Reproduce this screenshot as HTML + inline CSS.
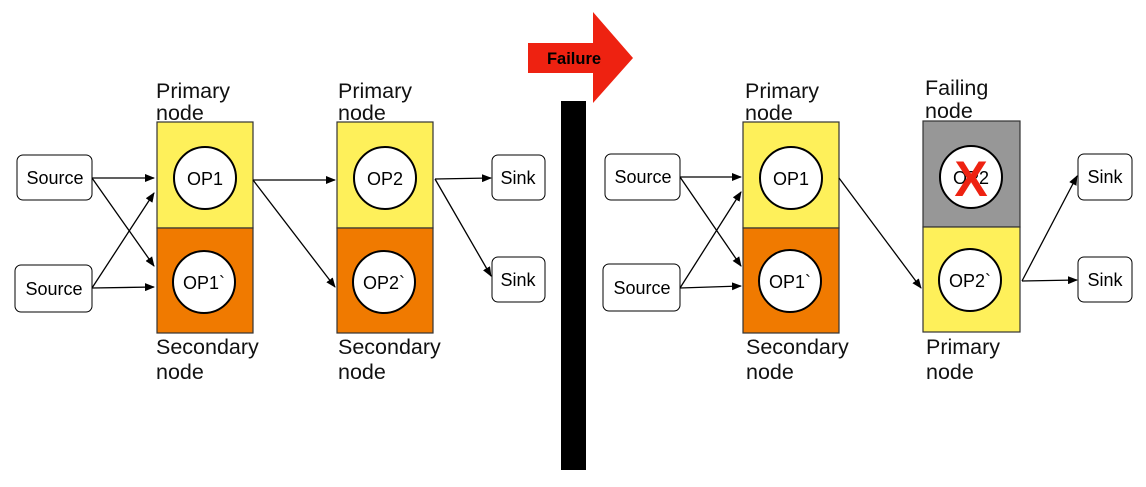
<!DOCTYPE html>
<html><head><meta charset="utf-8"><style>
body{margin:0;background:#fff;width:1146px;height:482px;overflow:hidden}
svg text{font-family:"Liberation Sans",sans-serif}
</style></head><body>
<svg width="1146" height="482" viewBox="0 0 1146 482">
<defs><marker id="a" markerWidth="10" markerHeight="8" refX="9" refY="4" orient="auto" markerUnits="userSpaceOnUse"><path d="M0,0 L10,4 L0,8 Z" fill="#000"/></marker></defs>
<g stroke="#333" stroke-width="1.2">
<rect x="157" y="122" width="96" height="106" fill="#fef05a"/>
<rect x="157" y="228" width="96" height="105" fill="#f07a00"/>
<rect x="337" y="122" width="96" height="106" fill="#fef05a"/>
<rect x="337" y="228" width="96" height="105" fill="#f07a00"/>
<rect x="743" y="122" width="96" height="106" fill="#fef05a"/>
<rect x="743" y="228" width="96" height="105" fill="#f07a00"/>
<rect x="923" y="121" width="97" height="106" fill="#979797"/>
<rect x="923" y="227" width="97" height="105" fill="#fef05a"/>
</g>
<g fill="#fff" stroke="#000" stroke-width="2">
<circle cx="205" cy="178" r="31"/><circle cx="204" cy="282" r="31"/>
<circle cx="385" cy="178" r="31"/><circle cx="384" cy="282" r="31"/>
<circle cx="791" cy="178" r="31"/><circle cx="790" cy="281" r="31"/>
<circle cx="971" cy="177" r="31"/><circle cx="970" cy="280" r="31"/>
</g>
<g fill="#fff" stroke="#000" stroke-width="1">
<rect x="17" y="155" width="75" height="45" rx="6"/><rect x="15" y="265" width="77" height="47" rx="6"/>
<rect x="492" y="155" width="53" height="45" rx="6"/><rect x="492" y="257" width="53" height="45" rx="6"/>
<rect x="605" y="154" width="75" height="46" rx="6"/><rect x="603" y="264" width="77" height="47" rx="6"/>
<rect x="1078" y="154" width="54" height="46" rx="6"/><rect x="1078" y="257" width="54" height="45" rx="6"/>
</g>
<g stroke="#000" stroke-width="1.3" marker-end="url(#a)">
<line x1="92" y1="178" x2="154" y2="178"/><line x1="92" y1="178" x2="154" y2="266"/>
<line x1="92" y1="288" x2="154" y2="193"/><line x1="92" y1="288" x2="154" y2="287"/>
<line x1="253" y1="180" x2="335" y2="180"/><line x1="253" y1="180" x2="335" y2="287"/>
<line x1="435" y1="179" x2="491" y2="178"/><line x1="435" y1="179" x2="491" y2="276"/>
<line x1="680" y1="177" x2="741" y2="177"/><line x1="680" y1="177" x2="741" y2="266"/>
<line x1="680" y1="288" x2="741" y2="192"/><line x1="680" y1="288" x2="741" y2="286"/>
<line x1="839" y1="178" x2="921" y2="288"/>
<line x1="1022" y1="281" x2="1077" y2="176"/><line x1="1022" y1="281" x2="1077" y2="280"/>
</g>
<g font-size="18" text-anchor="middle">
<text x="55" y="184">Source</text><text x="54" y="295">Source</text>
<text x="518" y="184">Sink</text><text x="518" y="286">Sink</text>
<text x="643" y="183">Source</text><text x="642" y="294">Source</text>
<text x="1105" y="183">Sink</text><text x="1105" y="286">Sink</text>
<text x="205" y="185">OP1</text><text x="204" y="289">OP1`</text>
<text x="385" y="185">OP2</text><text x="384" y="289">OP2`</text>
<text x="791" y="185">OP1</text><text x="790" y="288">OP1`</text>
<text x="971" y="184">OP2</text><text x="970" y="287">OP2`</text>
</g>
<text x="971" y="196" font-size="50" font-weight="bold" fill="#ee2211" text-anchor="middle">X</text>
<g font-size="21.5" fill="#111">
<text x="156" y="98">Primary</text><text x="156" y="120">node</text>
<text x="338" y="98">Primary</text><text x="338" y="120">node</text>
<text x="156" y="354">Secondary</text><text x="156" y="379">node</text>
<text x="338" y="354">Secondary</text><text x="338" y="379">node</text>
<text x="745" y="98">Primary</text><text x="745" y="120">node</text>
<text x="925" y="95">Failing</text><text x="925" y="118">node</text>
<text x="746" y="354">Secondary</text><text x="746" y="379">node</text>
<text x="926" y="354">Primary</text><text x="926" y="379">node</text>
</g>
<rect x="561" y="101" width="25" height="369" fill="#000"/>
<path d="M528,43 H593 V12 L633,58 L593,103 V73 H528 Z" fill="#ee2211"/>
<text x="574" y="64" font-size="16.5" font-weight="bold" text-anchor="middle">Failure</text>
</svg>
</body></html>
